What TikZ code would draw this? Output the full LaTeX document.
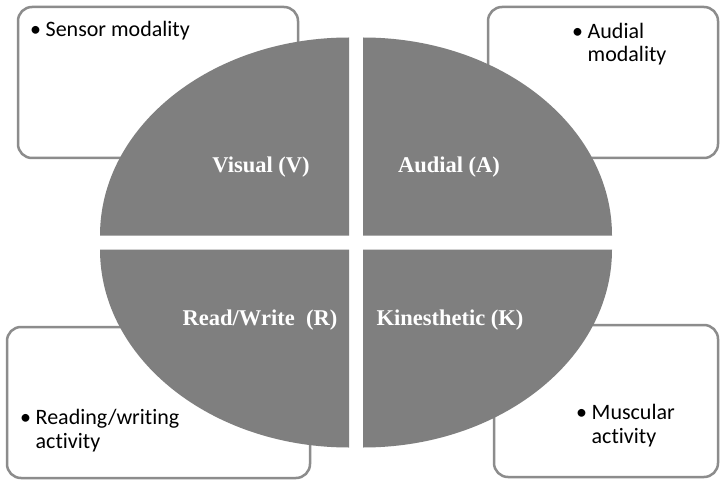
\documentclass[tikz,border=0pt]{standalone}
\usepackage{fontspec}
\setmainfont{Liberation Serif}
\newfontfamily\boxfont[Ligatures={NoCommon}]{Carlito}
\usetikzlibrary{calc}
\definecolor{quadgray}{HTML}{7F7F7F}
\definecolor{boxgray}{HTML}{8C8C8C}
\newcommand\bulitem{\makebox[15.5pt][l]{\textbullet}}
\newcommand\bulskip{\hspace*{15.5pt}}
\begin{document}
\begin{tikzpicture}[x=1pt,y=1pt,
  infobox/.style={draw=boxgray,line width=2.5pt,rounded corners=14pt,fill=white},
  quad/.style={fill=quadgray},
  quadlabel/.style={text=white,font=\fontsize{22.5}{26}\selectfont\bfseries,inner sep=0pt},
  boxtext/.style={font=\boxfont\fontsize{22}{23.5}\selectfont,align=left,inner sep=0pt,anchor=base west,text=black}]
\useasboundingbox (0,0) rectangle (720,480);
\fill[white] (0,0) rectangle (720,480);
% boxes (y up: Y = 480 - ypx)
\draw[infobox] (18,473) rectangle (298,322);
\draw[infobox] (488,473) rectangle (718,322);
\draw[infobox] (7,153) rectangle (310,2);
\draw[infobox] (494,155) rectangle (718,3);
% box texts (anchor = baseline of last line)
\node[boxtext] (tS) at (30,443) {\bulitem Sensor modality};
\node[boxtext] (tA) at (572,418) {\bulitem Audial\\\bulskip modality};
\node[boxtext] (tR) at (20,32) {\bulitem Reading/writing\\\bulskip activity};
\node[boxtext] (tM) at (576,37) {\bulitem Muscular\\\bulskip activity};
% ellipse quadrants
\coordinate (c) at (356,237.5);
\fill[quad] ($(c)+(-7,7)$) -- ++(-249,0) arc[start angle=180,end angle=90,x radius=249,y radius=198] -- cycle;
\fill[quad] ($(c)+(7,7)$) -- ++(249,0) arc[start angle=0,end angle=90,x radius=249,y radius=198] -- cycle;
\fill[quad] ($(c)+(-7,-7)$) -- ++(-249,0) arc[start angle=180,end angle=270,x radius=249,y radius=198] -- cycle;
\fill[quad] ($(c)+(7,-7)$) -- ++(249,0) arc[start angle=0,end angle=-90,x radius=249,y radius=198] -- cycle;
% quadrant labels
\node[quadlabel] (V) at (261,313) {Visual (V)};
\node[quadlabel] (A) at (449,313) {Audial (A)};
\node[quadlabel] (R) at (260,160) {Read/Write\ \ (R)};
\node[quadlabel] (K) at (450,160) {Kinesthetic (K)};
\end{tikzpicture}
\end{document}
